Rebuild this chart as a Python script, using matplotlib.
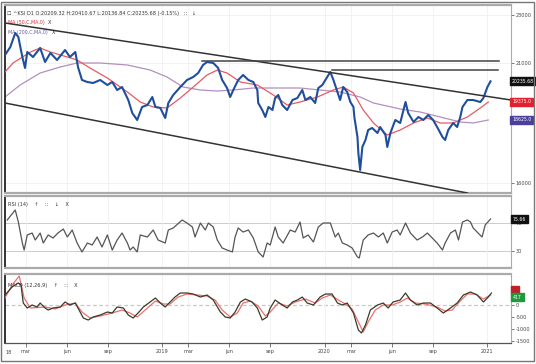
import matplotlib
matplotlib.use("Agg")
import matplotlib.pyplot as plt
import matplotlib.transforms as mtrans
import pandas as pd
from matplotlib.patches import Rectangle

# ---------------- data ----------------
price_dates = ["2018-01-13","2018-01-25","2018-02-05","2018-02-12","2018-02-21","2018-02-27","2018-03-04","2018-03-17",
    "2018-04-02","2018-04-13","2018-04-25","2018-05-10","2018-05-28","2018-06-08","2018-06-20","2018-06-26",
    "2018-07-05","2018-07-17","2018-07-30","2018-08-15","2018-08-31","2018-09-11","2018-09-22","2018-10-03",
    "2018-10-17","2018-10-26","2018-11-06","2018-11-17","2018-11-29","2018-12-10","2018-12-17","2018-12-28",
    "2019-01-08","2019-01-15","2019-01-26","2019-02-11","2019-02-26","2019-03-12","2019-03-23","2019-04-03",
    "2019-04-12","2019-04-26","2019-05-07","2019-05-16","2019-05-27","2019-06-03","2019-06-10","2019-06-21",
    "2019-07-02","2019-07-14","2019-07-25","2019-08-03","2019-08-05","2019-08-14","2019-08-21","2019-08-28",
    "2019-09-06","2019-09-12","2019-09-19","2019-09-28","2019-10-09","2019-10-21","2019-11-01","2019-11-12",
    "2019-11-19","2019-11-30","2019-12-11","2019-12-18","2019-12-27","2020-01-07","2020-01-14","2020-01-21",
    "2020-01-30","2020-02-05","2020-02-12","2020-02-21","2020-02-28","2020-03-06","2020-03-08","2020-03-15",
    "2020-03-17","2020-03-21","2020-03-26","2020-04-02","2020-04-08","2020-04-17","2020-04-29","2020-05-05",
    "2020-05-17","2020-05-21","2020-05-28","2020-06-08","2020-06-19","2020-07-01","2020-07-07","2020-07-19",
    "2020-07-30","2020-08-10","2020-08-21","2020-09-01","2020-09-10","2020-09-22","2020-09-28","2020-10-05",
    "2020-10-16","2020-10-25","2020-11-01","2020-11-06","2020-11-17","2020-11-30","2020-12-16","2020-12-23",
    "2021-01-01","2021-01-08"]
price_values = [21333,21667,22250,22083,21250,20792,21458,21250,
    21625,21042,21417,21125,21542,21250,21458,20833,
    20292,20208,20167,20292,20083,20208,19875,20000,
    19458,18917,18625,19167,19250,19583,19167,19125,
    18708,19333,19667,20000,20292,20417,20583,20917,
    21042,21000,20792,20292,19958,19583,19875,20292,
    20500,20292,20208,19875,19333,19042,18750,19167,
    19042,19542,19667,19250,19042,19458,19542,19875,
    19458,19583,19333,19958,20083,20417,20625,20292,
    19792,19458,20000,19792,19375,19167,18750,17917,
    17250,16542,17500,17792,18208,18292,18083,18333,
    18000,17500,18083,18625,18500,19375,18917,18542,
    18750,18625,18833,18625,18333,17917,17792,18208,
    18500,18333,18750,19167,19458,19458,19375,19542,
    20000,20236]

ma50_dates = ["2018-01-13","2018-01-31","2018-03-11","2018-04-02","2018-04-25","2018-06-02","2018-06-24","2018-07-23",
    "2018-08-31","2018-10-15","2018-11-13","2018-12-12","2019-01-12","2019-02-11","2019-03-12","2019-04-12",
    "2019-05-05","2019-05-27","2019-06-26","2019-08-03","2019-09-08","2019-10-09","2019-11-07","2019-12-16",
    "2020-01-21","2020-02-12","2020-03-06","2020-03-28","2020-04-20","2020-05-21","2020-06-19","2020-07-19",
    "2020-08-19","2020-09-17","2020-10-16","2020-11-17","2020-12-16","2021-01-03"]
ma50_values = [20625,21000,21458,21625,21458,21250,21125,20792,
    20375,19792,19375,19167,19125,19542,20000,20500,
    20708,20583,20208,20083,19667,19250,19375,19583,
    19875,20000,19750,19042,18500,18000,18208,18500,
    18708,18500,18500,18750,19125,19375]

ma200_dates = ["2018-01-13","2018-02-16","2018-04-02","2018-05-17","2018-06-24","2018-08-15","2018-10-15","2018-12-05",
    "2019-01-12","2019-02-17","2019-03-28","2019-05-05","2019-06-10","2019-07-25","2019-09-08","2019-11-07",
    "2019-12-22","2020-02-05","2020-03-21","2020-04-20","2020-06-19","2020-08-03","2020-09-17","2020-11-01",
    "2020-11-30","2021-01-03"]
ma200_values = [19583,20083,20583,20833,21000,21000,20917,20708,
    20417,20000,19875,19833,19875,19958,19958,19958,
    19875,19792,19583,19333,19083,18958,18750,18542,
    18500,18625]

upper_channel_dates = ["2018-01-13", "2021-02-23"]
upper_channel_values = [22667, 19458]
lower_channel_dates = ["2018-01-13", "2020-11-17"]
lower_channel_values = [19333, 15583]
resistance1_dates = ["2019-04-01", "2021-01-26"]
resistance1_values = [21083, 21083]
resistance2_dates = ["2020-01-18", "2021-01-24"]
resistance2_values = [20708, 20708]

rsi_dates = ["2018-01-18","2018-02-05","2018-02-12","2018-02-21","2018-02-25","2018-03-04","2018-03-15","2018-03-22",
    "2018-04-02","2018-04-09","2018-04-20","2018-05-01","2018-05-12","2018-05-24","2018-06-02","2018-06-13",
    "2018-06-24","2018-07-05","2018-07-17","2018-07-28","2018-08-08","2018-08-19","2018-08-31","2018-09-11",
    "2018-09-22","2018-10-03","2018-10-15","2018-10-21","2018-10-28","2018-11-06","2018-11-13","2018-11-29",
    "2018-12-12","2018-12-23","2019-01-08","2019-01-15","2019-01-26","2019-02-15","2019-02-26","2019-03-10",
    "2019-03-16","2019-03-28","2019-04-08","2019-04-15","2019-04-26","2019-05-05","2019-05-16","2019-05-27",
    "2019-06-08","2019-06-14","2019-06-21","2019-07-02","2019-07-14","2019-07-25","2019-08-05","2019-08-16",
    "2019-08-25","2019-09-01","2019-09-12","2019-09-19","2019-09-30","2019-10-16","2019-10-27","2019-11-07",
    "2019-11-14","2019-11-25","2019-12-07","2019-12-18","2019-12-29","2020-01-14","2020-01-25","2020-02-01",
    "2020-02-10","2020-02-21","2020-03-03","2020-03-15","2020-03-19","2020-03-28","2020-04-08","2020-04-20",
    "2020-05-01","2020-05-12","2020-05-21","2020-06-01","2020-06-12","2020-06-19","2020-07-01","2020-07-12",
    "2020-07-27","2020-08-08","2020-08-19","2020-08-30","2020-09-10","2020-09-22","2020-09-28","2020-10-10",
    "2020-10-21","2020-10-28","2020-11-06","2020-11-17","2020-11-24","2020-11-30","2020-12-11","2020-12-20",
    "2020-12-27","2021-01-08"]
rsi_values = [74.3,88.6,71.4,41.4,31.4,52.9,55.7,45.7,
    55.7,41.4,52.9,48.6,55.7,61.4,50.0,60.0,
    41.4,28.6,41.4,38.6,50.0,35.7,52.9,31.4,
    45.7,55.7,41.4,31.4,35.7,28.6,52.9,50.0,
    60.0,45.7,41.4,60.0,62.9,74.3,70.0,64.3,
    50.0,70.0,60.0,70.0,64.3,45.7,34.3,31.4,
    28.6,50.0,62.9,57.1,60.0,48.6,28.6,21.4,
    41.4,38.6,64.3,50.0,41.4,60.0,57.1,71.4,
    48.6,52.9,42.9,64.3,70.0,70.0,50.0,55.7,
    41.4,38.6,34.3,21.4,20.0,45.7,52.9,55.7,
    50.0,55.7,41.4,57.1,60.0,52.9,70.0,55.7,
    45.7,50.0,55.7,48.6,41.4,31.4,41.4,55.7,
    60.0,45.7,71.4,74.3,71.4,62.9,55.7,50.0,
    67.1,75.7]

macd_dates = ["2018-01-13","2018-01-29","2018-02-12","2018-02-18","2018-02-23","2018-03-04","2018-03-15","2018-03-26",
    "2018-04-02","2018-04-13","2018-04-20","2018-05-01","2018-05-17","2018-05-28","2018-06-08","2018-06-20",
    "2018-06-26","2018-07-08","2018-07-19","2018-07-30","2018-08-15","2018-08-31","2018-09-11","2018-09-22",
    "2018-10-06","2018-10-17","2018-10-28","2018-11-08","2018-11-20","2018-12-05","2018-12-17","2018-12-28",
    "2019-01-08","2019-01-19","2019-01-30","2019-02-11","2019-02-26","2019-03-12","2019-03-28","2019-04-12",
    "2019-04-26","2019-05-12","2019-05-23","2019-06-03","2019-06-14","2019-06-26","2019-07-07","2019-07-22",
    "2019-08-03","2019-08-14","2019-08-25","2019-09-01","2019-09-12","2019-09-28","2019-10-09","2019-10-21",
    "2019-11-01","2019-11-12","2019-11-23","2019-12-07","2019-12-22","2020-01-03","2020-01-18","2020-01-30",
    "2020-02-10","2020-02-21","2020-03-06","2020-03-17","2020-03-24","2020-04-02","2020-04-13","2020-04-29",
    "2020-05-12","2020-05-23","2020-06-03","2020-06-19","2020-07-01","2020-07-12","2020-07-27","2020-08-10",
    "2020-08-26","2020-09-10","2020-09-24","2020-10-10","2020-10-25","2020-11-08","2020-11-24","2020-12-09",
    "2020-12-23","2021-01-03","2021-01-10"]
macd_values = [417,750,917,833,83,-125,0,-83,
    83,-125,-208,-125,-83,125,0,83,
    -125,-542,-625,-500,-417,-292,-333,-83,
    -125,-417,-542,-333,-83,125,292,83,
    -83,125,333,500,500,458,333,417,
    208,-292,-500,-542,-292,125,250,125,
    -125,-625,-500,-125,208,0,-125,125,
    208,333,83,0,333,458,458,83,
    0,83,-333,-1042,-1167,-833,-208,0,
    83,-125,125,208,500,208,0,83,
    83,-125,-333,-125,83,417,542,417,
    125,333,500]

signal_dates = ["2018-01-13","2018-01-29","2018-02-14","2018-02-25","2018-03-11","2018-04-13","2018-05-06","2018-05-28",
    "2018-06-20","2018-07-05","2018-07-23","2018-08-15","2018-09-11","2018-10-03","2018-10-21","2018-11-06",
    "2018-11-24","2018-12-17","2019-01-04","2019-01-19","2019-02-06","2019-02-26","2019-03-21","2019-04-12",
    "2019-04-30","2019-05-16","2019-06-03","2019-06-19","2019-07-02","2019-07-18","2019-08-05","2019-08-21",
    "2019-09-01","2019-09-19","2019-10-09","2019-10-27","2019-11-19","2019-12-11","2019-12-27","2020-01-14",
    "2020-02-01","2020-02-17","2020-03-03","2020-03-17","2020-03-28","2020-04-08","2020-04-24","2020-05-12",
    "2020-06-01","2020-06-19","2020-07-05","2020-07-23","2020-08-14","2020-09-10","2020-09-28","2020-10-14",
    "2020-11-01","2020-11-17","2020-12-05","2020-12-23","2021-01-08"]
signal_values = [292,833,1208,292,-125,-83,-167,0,
    83,-292,-542,-458,-333,-208,-333,-500,
    -208,167,42,42,333,458,417,375,
    208,-208,-500,-333,83,167,-42,-458,
    -292,83,-42,125,250,83,292,417,
    208,42,-167,-708,-1125,-708,-208,0,
    0,125,292,83,42,-83,-250,-208,
    167,458,458,250,417]

x_tick_dates = ["2018-03-01","2018-06-01","2018-09-01","2019-01-01","2019-03-01","2019-06-01","2019-09-01",
                "2020-01-01","2020-03-01","2020-06-01","2020-09-01","2021-01-01"]
x_tick_labels = ["mar","jun","sep","2019","mar","jun","sep","2020","mar","jun","sep","2021"]
price_ticks = [23000, 21000, 16000]
rsi_ticks = [30, 70]
macd_ticks = [0, -500, -1000, -1500]

header_text = "^KSI D1 O:20209.32 H:20410.67 L:20136.84 C:20235.68 (-0.15%)"

# ---------------- figure ----------------
W, H = 536, 364
fig = plt.figure(figsize=(W / 100, H / 100), dpi=100)
fig.patch.set_facecolor("white")


def frac(x0, y0, x1, y1):
    return [x0 / W, 1 - y1 / H, (x1 - x0) / W, (y1 - y0) / H]


ax1 = fig.add_axes(frac(5, 5, 511, 193))
ax2 = fig.add_axes(frac(5, 196, 511, 268), sharex=ax1)
ax3 = fig.add_axes(frac(5, 274, 511, 343), sharex=ax1)

D = pd.to_datetime
xlim = (D("2018-01-13"), D("2021-02-23"))
xt = D(x_tick_dates)

for ax in (ax1, ax2, ax3):
    ax.set_facecolor("white")
    ax.yaxis.tick_right()
    ax.tick_params(axis="y", labelsize=3.6, colors="#444444", length=2, width=0.5, pad=1.5)
    ax.tick_params(axis="x", length=0, labelbottom=False)
    ax.set_xticks(xt)
    ax.grid(axis="x", color="#f0f0f0", lw=0.6)
    ax.spines["left"].set_color("#222222")
    ax.spines["left"].set_linewidth(1.3)
    ax.spines["right"].set_color("#aaaaaa")
    ax.spines["right"].set_linewidth(0.8)
    ax.spines["top"].set_color("#aaaaaa")
    ax.spines["top"].set_linewidth(1.6)
    ax.spines["bottom"].set_color("#aaaaaa")
    ax.spines["bottom"].set_linewidth(1.6)
    ax.set_xlim(*xlim)

# ----- main price panel -----
ax1.set_ylim(15583, 23417)
ax1.set_yticks(price_ticks)
ax1.set_yticklabels([str(v) for v in price_ticks])
ax1.grid(axis="y", color="#f0f0f0", lw=0.6)
ax1.plot(D(ma200_dates), ma200_values, color="#b38fbf", lw=0.9, zorder=2)
ax1.plot(D(ma50_dates), ma50_values, color="#e65a62", lw=0.9, zorder=3)
ax1.plot(D(price_dates), price_values, color="#1f4f9c", lw=1.5, zorder=4)
ax1.plot(D(upper_channel_dates), upper_channel_values, color="#333333", lw=1.1, zorder=5)
ax1.plot(D(lower_channel_dates), lower_channel_values, color="#333333", lw=1.1, zorder=5)
ax1.plot(D(resistance1_dates), resistance1_values, color="#444444", lw=1.1, zorder=5)
ax1.plot(D(resistance2_dates), resistance2_values, color="#444444", lw=1.1, zorder=5)

tr1 = mtrans.blended_transform_factory(ax1.transAxes, ax1.transData)


def value_box(ax, tr, y, text, fc, x=1.002):
    ax.text(x, y, text, transform=tr, fontsize=3.3, color="white", va="center", ha="left",
            bbox=dict(boxstyle="square,pad=0.35", fc=fc, ec=fc), clip_on=False, zorder=10)


value_box(ax1, tr1, price_values[-1], "20235.68", "#111111")
value_box(ax1, tr1, ma50_values[-1], "19375.0", "#e0202e")
value_box(ax1, tr1, ma200_values[-1], "18625.0", "#4a3f9a")

ax1.text(0.004, 0.955, "\u2610 " + header_text + "   \u2237   \u2193", transform=ax1.transAxes,
         fontsize=3.6, color="#333333", va="center", ha="left")
ax1.text(0.006, 0.905, "MA (50,C,MA,0)", transform=ax1.transAxes, fontsize=3.4, color="#e0303a",
         va="center", ha="left")
ax1.text(0.085, 0.905, "X", transform=ax1.transAxes, fontsize=3.6, color="#333333", va="center")
ax1.text(0.006, 0.852, "MA (200,C,MA,0)", transform=ax1.transAxes, fontsize=3.4, color="#6a5aa8",
         va="center", ha="left")
ax1.text(0.093, 0.852, "X", transform=ax1.transAxes, fontsize=3.6, color="#333333", va="center")

# ----- RSI panel -----
ax2.set_ylim(5.7, 108.6)
ax2.set_yticks(rsi_ticks)
ax2.set_yticklabels([str(v) for v in rsi_ticks])
for lvl in rsi_ticks:
    ax2.axhline(lvl, color="#cccccc", lw=0.7, zorder=1)
ax2.plot(D(rsi_dates), rsi_values, color="#555555", lw=0.9, zorder=3)
tr2 = mtrans.blended_transform_factory(ax2.transAxes, ax2.transData)
value_box(ax2, tr2, rsi_values[-1], "75.66", "#111111", x=1.004)
ax2.text(0.006, 0.88, "RSI (14)    \u2191    \u2237    \u2193    X", transform=ax2.transAxes,
         fontsize=3.6, color="#333333", va="center", ha="left")

# ----- MACD panel -----
ax3.set_ylim(-1583, 1292)
ax3.set_yticks(macd_ticks)
ax3.set_yticklabels([str(v) for v in macd_ticks])
ax3.axhline(0, color="#c8c8c8", lw=0.9, ls=(0, (3, 2)), zorder=1)
ax3.plot(D(signal_dates), signal_values, color="#ec7070", lw=0.9, zorder=3)
ax3.plot(D(macd_dates), macd_values, color="#3a3a2a", lw=0.9, zorder=4)
tr3 = mtrans.blended_transform_factory(ax3.transAxes, ax3.transData)
value_box(ax3, tr3, 640, "   ", "#c0202a", x=1.004)
value_box(ax3, tr3, 330, "417", "#1f9a3a", x=1.004)
ax3.text(0.006, 0.83, "MACD (12,26,9)    \u2191    \u2237    X", transform=ax3.transAxes,
         fontsize=3.6, color="#333333", va="center", ha="left")

ax3.spines["bottom"].set_color("#555555")
ax3.spines["bottom"].set_linewidth(0.9)
ax3.tick_params(axis="x", length=3, width=0.5, colors="#444444", labelsize=3.6, labelbottom=True,
                pad=1.5, direction="out")
ax3.set_xticklabels(x_tick_labels)
ax3.text(0.0, -0.14, "18", transform=ax3.transAxes, fontsize=3.6, color="#444444",
         ha="left", va="center", clip_on=False)

# outer frame
fig.patches.append(Rectangle((1 / W, 3 / H), 533 / W, 359 / H, transform=fig.transFigure,
                             fill=False, ec="#777777", lw=1.0))

fig.savefig("out.png", dpi=100, facecolor="white")
